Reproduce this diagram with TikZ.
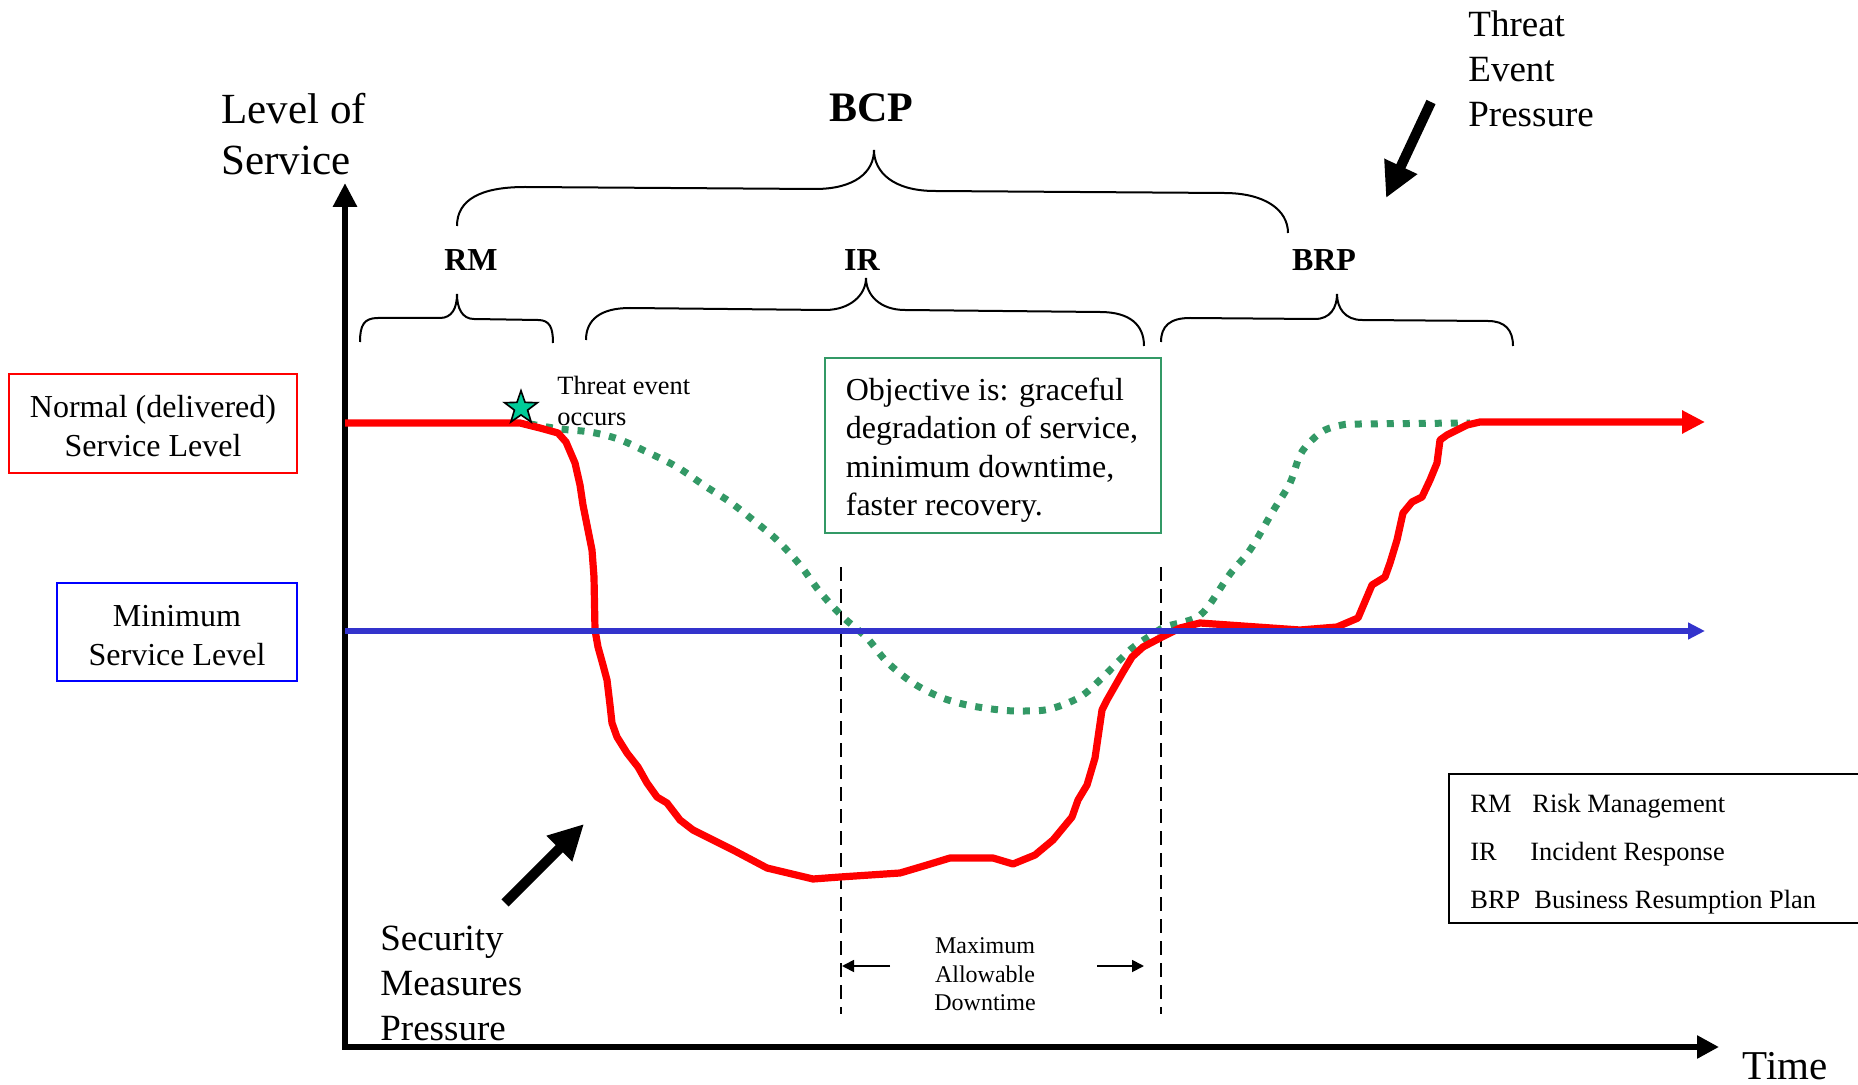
\documentclass[tikz,border=0pt]{standalone}
\usepackage{fontspec}
\setmainfont{Liberation Serif}
\usetikzlibrary{arrows.meta,shapes.geometric}
\definecolor{myred}{RGB}{255,0,0}
\definecolor{lineblue}{RGB}{51,51,204}
\definecolor{boxblue}{RGB}{0,0,255}
\definecolor{dotgreen}{RGB}{51,153,102}
\definecolor{stargreen}{RGB}{0,204,153}
\newcommand{\fsz}[2]{\fontsize{#1}{#2}\selectfont}
\begin{document}
\begin{tikzpicture}[x=0.5pt,y=-0.5pt,
  axisline/.style={line width=3pt,{Triangle[length=12pt,width=11.5pt]}-{Triangle[length=11pt,width=11pt]}},
  bracepath/.style={line width=1pt,black},
  redcurve/.style={draw=myred,line width=3.6pt,line join=round,-{Triangle[length=11.5pt,width=11pt]}},
  greendots/.style={draw=dotgreen,line width=3.5pt,dash pattern=on 3.5pt off 4.5pt},
  bluecurve/.style={draw=lineblue,line width=2.75pt,-{Triangle[length=8.5pt,width=8pt]}},
  bigarrow/.style={line width=5pt,-{Triangle[length=17.5pt,width=17pt]}},
  smallarrow/.style={line width=0.9pt,-{Triangle[length=6pt,width=6pt]}},
  dashline/.style={line width=1.4pt,dash pattern=on 7pt off 4pt},
  txt/.style={inner sep=0pt},
  levelbox/.style={line width=1pt,align=center,inner sep=0pt,font=\fsz{16}{19.5}},
  objbox/.style={draw=dotgreen,line width=1pt,align=left,inner sep=0pt,minimum width=168pt,minimum height=87.5pt,font=\fsz{16}{19.25}},
  legtxt/.style={inner sep=0pt,anchor=base west,font=\fsz{13.2}{15.5}}
]
\useasboundingbox (0,0) rectangle (1858,1085);

% ---- axes ----
\coordinate (ytop) at (345,183);
\coordinate (orig) at (345,1047);
\coordinate (xend) at (1719,1047);
\draw[axisline] (ytop) -- (orig) -- (xend);

% ---- axis labels ----
\node[txt,anchor=north west,align=left,font=\fsz{21.5}{25.5}] (lvl) at (221,92.6) {Level of\\Service};
\node[txt,anchor=base west,text depth=0pt,font=\fsz{20.5}{24}] (time) at (1742,1079) {Time};

% ---- braces ----
\node[txt,anchor=base,font=\fsz{21}{25}\bfseries] (bcp) at (871,122) {BCP};
\draw[bracepath] (457,226) .. controls (457,200) and (480,187) .. (525,187) -- (815,189)
  .. controls (855,189) and (874,172) .. (874,150)
  .. controls (874,172) and (893,191) .. (935,191) -- (1224,193)
  .. controls (1265,193) and (1288,210) .. (1288,233);

\node[txt,anchor=base,font=\fsz{16}{19}\bfseries] (rm) at (471,271) {RM};
\node[txt,anchor=base,font=\fsz{16}{19}\bfseries] (ir) at (862,271) {IR};
\node[txt,anchor=base,font=\fsz{16}{19}\bfseries] (brp) at (1324,271) {BRP};

\draw[bracepath] (360,342) .. controls (360,325) and (364,318) .. (378,318) -- (440,318)
  .. controls (452,318) and (457,308) .. (457,294)
  .. controls (457,308) and (462,319) .. (474,319) -- (538,320)
  .. controls (550,320) and (553,328) .. (553,343);
\draw[bracepath] (586,340) .. controls (586,320) and (600,308) .. (630,308) -- (825,310)
  .. controls (850,310) and (866,295) .. (866,278)
  .. controls (866,295) and (880,310) .. (905,310) -- (1100,312)
  .. controls (1130,312) and (1144,325) .. (1144,346);
\draw[bracepath] (1161,342) .. controls (1161,326) and (1170,318) .. (1190,318) -- (1315,319)
  .. controls (1330,319) and (1337,308) .. (1337,294)
  .. controls (1337,308) and (1345,320) .. (1362,320) -- (1488,321)
  .. controls (1505,321) and (1513,330) .. (1513,346);

% ---- pressure arrows and labels ----
\node[txt,anchor=north west,align=left,font=\fsz{18.5}{22.5}] (tep) at (1468,10.8) {Threat\\Event\\Pressure};
\coordinate (tpA) at (1431,102);
\coordinate (tpB) at (1386,198);
\draw[bigarrow] (tpA) -- (tpB);

\node[txt,anchor=north west,align=left,font=\fsz{18.5}{22.5}] (smp) at (380,925.5) {Security\\Measures\\Pressure};
\coordinate (secA) at (505,903);
\coordinate (secB) at (584,824);
\draw[bigarrow] (secA) -- (secB);

% ---- level boxes ----
\node[levelbox,draw=myred,minimum width=144pt,minimum height=49.5pt] (normal) at (153,423.5) {\rule{0pt}{14.1pt}Normal (delivered)\\Service Level};
\node[levelbox,draw=boxblue,minimum width=120pt,minimum height=49pt] (minimum) at (177,632) {\rule{0pt}{13.9pt}Minimum\\Service Level};

% ---- objective box ----
\node[objbox] (obj) at (993,445.5) {\rule{0pt}{16pt}\hspace{-1pt}Objective is: graceful\\\hspace{-1pt}degradation of service,\\\hspace{-1pt}minimum downtime,\\\hspace{-1pt}faster recovery.};

% ---- dashed lines and max allowable downtime ----
\coordinate (dLtop) at (841,567);
\coordinate (dLbot) at (841,1014);
\coordinate (dRtop) at (1161,567);
\coordinate (dRbot) at (1161,1014);
\draw[dashline] (dLtop) -- (dLbot);
\draw[dashline] (dRtop) -- (dRbot);
\node[txt,anchor=north,align=center,font=\fsz{12}{14.25}] (mad) at (985,937.5) {Maximum\\Allowable\\Downtime};
\coordinate (mL1) at (890,966);
\coordinate (mL2) at (842,966);
\coordinate (mR1) at (1097,966);
\coordinate (mR2) at (1144,966);
\draw[smallarrow] (mL1) -- (mL2);
\draw[smallarrow] (mR1) -- (mR2);

% ---- curves ----
\coordinate (redstart) at (345,423);
\coordinate (redend) at (1705,422);
\coordinate (bluestart) at (345,631);
\coordinate (blueend) at (1705,631);

\draw[greendots] plot[smooth,tension=0.55] coordinates {(530,424) (560,429) (590,432) (618,439) (647,452) (677,467) (705,486) (730,502) (753,520) (777,540) (800,565) (820,592) (843,617) (867,638) (887,662) (913,683) (940,697) (967,705) (1000,710) (1025,711) (1050,709) (1080,697) (1103,677) (1130,650) (1150,636) (1165,627) (1193,619) (1207,608) (1230,574) (1250,550) (1273,511) (1290,483) (1300,455) (1312,440) (1325,430) (1342,425) (1360,424) (1470,423)};

\draw[redcurve] (redstart) -- (520,423) -- (540,428) -- (558,433) -- (566,442) -- (575,463) -- (580,485) -- (583,505) -- (588,530) -- (592,550) -- (594,577) -- (595,630) -- (598,647) -- (603,665) -- (607,680) -- (610,705) -- (612,723) -- (617,737) -- (627,753) -- (638,767) -- (647,783) -- (657,797) -- (667,803) -- (680,820) -- (693,830) -- (707,837) -- (733,850) -- (767,868) -- (813,879) -- (840,877) -- (900,873) -- (927,865) -- (950,858) -- (993,858) -- (1013,864) -- (1035,855) -- (1053,840) -- (1072,817) -- (1078,800) -- (1087,785) -- (1095,758) -- (1102,710) -- (1107,700) -- (1123,672) -- (1132,657) -- (1143,647) -- (1162,637) -- (1180,628) -- (1200,623) -- (1300,630) -- (1337,627) -- (1358,618) -- (1372,585) -- (1385,577) -- (1390,563) -- (1397,540) -- (1403,513) -- (1412,502) -- (1422,497) -- (1430,480) -- (1437,463) -- (1440,440) -- (1447,435) -- (1467,425) -- (1480,422) -- (redend);

\draw[bluecurve] (bluestart) -- (blueend);

% ---- star and threat event label ----
\node[star,star points=5,star point ratio=2.5,minimum size=17.3pt,inner sep=0pt,draw=black,line width=0.8pt,fill=stargreen] (star) at (521,408) {};
\node[txt,anchor=north west,align=left,font=\fsz{13.2}{15.5}] (tevent) at (557,376) {Threat event\\occurs};

% ---- legend ----
\draw[line width=1pt] (1870,774) -- (1449,774) -- (1449,923) -- (1870,923);
\node[legtxt] (lrm) at (1470,812) {RM};
\node[legtxt] (lrmd) at (1532,812) {Risk Management};
\node[legtxt] (lir) at (1470,860) {IR};
\node[legtxt] (lird) at (1530,860) {Incident Response};
\node[legtxt] (lbrp) at (1470,908) {BRP};
\node[legtxt] (lbrpd) at (1534,908) {Business Resumption Plan};
\end{tikzpicture}
\end{document}
